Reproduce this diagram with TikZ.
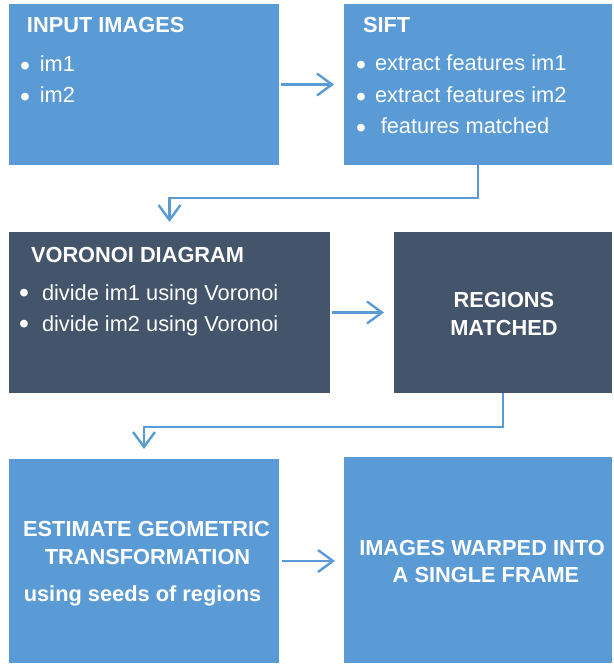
\documentclass[tikz,border=0pt]{standalone}
\usepackage{fontspec}
\setmainfont{Liberation Sans}
\usetikzlibrary{arrows.meta, positioning, calc}
\definecolor{lightblue}{HTML}{5B9BD5}
\definecolor{slate}{HTML}{44546A}
\newcommand{\bul}[1]{\makebox[7.6pt]{\raisebox{-#1em}{\scalebox{1.3}{\textbullet}}}}

\begin{document}
\begin{tikzpicture}[x=1pt, y=-1pt,
    every node/.style={inner sep=0, outer sep=0, text=white, font=\fontsize{21.8}{26}\selectfont},
    box/.style={anchor=north west, rectangle, fill=#1},
    title/.style={anchor=base west, font=\fontsize{21.8}{26}\selectfont\bfseries},
    item/.style={anchor=base west},
    captxt/.style={anchor=base, font=\fontsize{21.8}{26}\selectfont\bfseries},
    flow/.style={draw=lightblue, line width=2.6pt, -{Straight Barb[length=15pt, width=22pt, line width=2.4pt]}}]
      \useasboundingbox (0, 0) rectangle (614, 665);
      % row 1
      \node[box=lightblue, minimum width=270pt, minimum height=161pt] (inp) at (9, 4) {};
      \node[box=lightblue, minimum width=268pt, minimum height=161pt] (sift) at (344, 4) {};
      \node[title] (inpt) at (27, 32) {INPUT IMAGES};
      \node[item] (inp1) at (21.2, 71) {\bul{0.2}\hspace{11pt}im1};
      \node[item] (inp2) at (21.2, 102) {\bul{0.2}\hspace{11pt}im2};
      \node[title] (siftt) at (363, 32) {SIFT};
      \node[item] (sift1) at (357.2, 70) {\bul{0.2}\hspace{10.2pt}extract features im1};
      \node[item] (sift2) at (357.2, 102) {\bul{0.2}\hspace{10.2pt}extract features im2};
      \node[item] (sift3) at (357.2, 133) {\bul{0.2}\hspace{16pt}features matched};
      % row 2
      \node[box=slate, minimum width=321pt, minimum height=161pt] (vor) at (9, 232) {};
      \node[box=slate, minimum width=218pt, minimum height=161pt] (reg) at (394, 232) {};
      \node[title] (vort) at (31, 262) {VORONOI DIAGRAM};
      \node[item] (vor1) at (20.2, 300) {\bul{0.11}\hspace{14.2pt}divide im1 using Voronoi};
      \node[item] (vor2) at (20.2, 331) {\bul{0.11}\hspace{14.2pt}divide im2 using Voronoi};
      \node[captxt] (reg1) at (504, 307) {REGIONS};
      \node[captxt] (reg2) at (504, 335) {MATCHED};
      % row 3
      \node[box=lightblue, minimum width=270pt, minimum height=204pt] (est) at (9, 459) {};
      \node[box=lightblue, minimum width=268pt, minimum height=206pt] (warp) at (344, 457) {};
      \node[captxt] (est1) at (146.5, 536) {ESTIMATE GEOMETRIC};
      \node[captxt] (est2) at (147.5, 564) {TRANSFORMATION};
      \node[captxt] (est3) at (142.5, 601) {using seeds of regions};
      \node[captxt] (warp1) at (482, 555) {IMAGES WARPED INTO};
      \node[captxt] (warp2) at (486, 582) {A SINGLE FRAME};
      % connectors
      \draw[flow, shorten <=2pt, shorten >=10pt] (inp.east) -- (inp.east -| sift.west);
      \draw[flow] (sift.south) -- ++(0, 33) -| ([yshift=10pt]vor.north);
      \draw[flow, shorten <=2pt, shorten >=10pt] (vor.east) -- (vor.east -| reg.west);
      \draw[flow] (reg.south) -- ++(0, 34) -| ([yshift=10pt]est.north);
      \draw[flow, shorten <=3pt, shorten >=9pt] (est.east) -- (est.east -| warp.west);
\end{tikzpicture}
\end{document}
